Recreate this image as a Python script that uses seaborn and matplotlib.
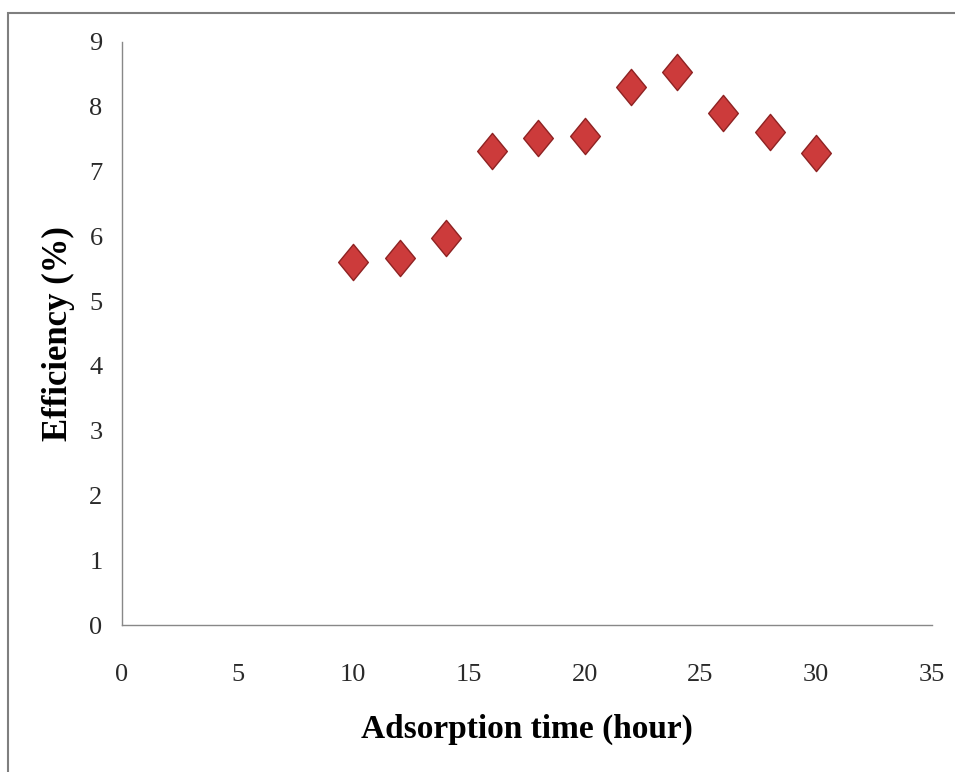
import matplotlib
matplotlib.use("Agg")
import matplotlib.pyplot as plt
import seaborn as sns
import pandas as pd
from matplotlib.path import Path
from matplotlib.patches import Rectangle

# Data
adsorption_time = [10, 12, 14, 16, 18, 20, 22, 24, 26, 28, 30]
efficiency = [5.61, 5.66, 5.98, 7.31, 7.52, 7.55, 8.30, 8.54, 7.90, 7.61, 7.29]
x_ticks = [0, 5, 10, 15, 20, 25, 30, 35]
y_ticks = [0, 1, 2, 3, 4, 5, 6, 7, 8, 9]

df = pd.DataFrame({"time": adsorption_time, "eff": efficiency})

sns.set_theme(style="white")
plt.rcParams['font.family'] = ['Liberation Serif', 'DejaVu Serif']

fig = plt.figure(figsize=(9.55, 7.72), dpi=100)
ax = fig.add_axes([122 / 955, 1 - 625 / 772, (931.7 - 122) / 955, (625 - 42) / 772])

diamond = Path([(0, 1.0), (0.82, 0), (0, -1.0), (-0.82, 0), (0, 1.0)],
               [Path.MOVETO, Path.LINETO, Path.LINETO, Path.LINETO, Path.CLOSEPOLY])

sns.scatterplot(data=df, x="time", y="eff", ax=ax, marker=diamond, s=680,
                color="#cc3b3b", edgecolor="#8e2222", linewidth=1.0, legend=False, zorder=3)

ax.set_xlim(0, 35)
ax.set_ylim(0, 9)
ax.set_xticks(x_ticks)
ax.set_yticks(y_ticks)
ax.tick_params(axis="both", length=0, labelsize=19, colors="#2a2a2a")
ax.tick_params(axis="x", pad=28)
ax.tick_params(axis="y", pad=14)

for side in ["top", "right"]:
    ax.spines[side].set_visible(False)
for side in ["left", "bottom"]:
    ax.spines[side].set_color("#888888")
    ax.spines[side].set_linewidth(1.0)

ax.set_xlabel("Adsorption time (hour)", fontsize=24, fontweight="bold", labelpad=20, color="black")
ax.set_ylabel("Efficiency (%)", fontsize=25, fontweight="bold", labelpad=10, color="black")
ax.grid(False)

# Outer frame of the chart area
fig.patches.append(Rectangle((8 / 955, -0.2), 1.2, 1 - 13 / 772 + 0.2,
                             transform=fig.transFigure, fill=False,
                             edgecolor="#7f7f7f", linewidth=1.5))

fig.savefig("out.png", dpi=100)
